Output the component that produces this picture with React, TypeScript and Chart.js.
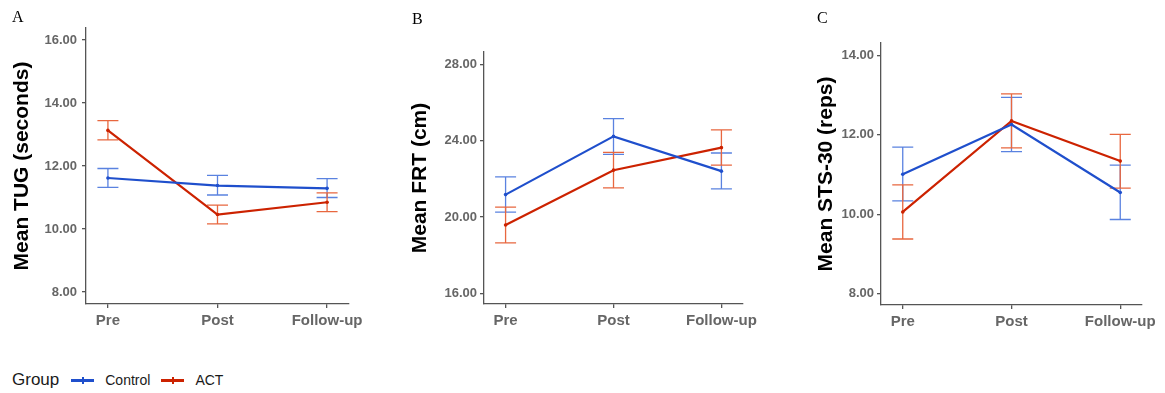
import React, { useEffect, useRef } from "react";
import { Chart, registerables } from "chart.js";

Chart.register(...registerables);
Chart.defaults.font.family = "'Liberation Sans', Arial, sans-serif";

const timePoints = ["Pre", "Post", "Follow-up"];

// Panel A: TUG (seconds)
const tugControl = [11.62, 11.38, 11.29];
const tugControlLow = [11.32, 11.08, 11.0];
const tugControlHigh = [11.92, 11.7, 11.6];
const tugAct = [13.13, 10.46, 10.85];
const tugActLow = [12.83, 10.16, 10.55];
const tugActHigh = [13.44, 10.76, 11.15];
const tugTicks = [8, 10, 12, 14, 16];

// Panel B: FRT (cm)
const frtControl = [21.17, 24.22, 22.4];
const frtControlLow = [20.25, 23.28, 21.47];
const frtControlHigh = [22.1, 25.15, 23.35];
const frtAct = [19.58, 22.45, 23.63];
const frtActLow = [18.64, 21.52, 22.71];
const frtActHigh = [20.51, 23.38, 24.56];
const frtTicks = [16, 20, 24, 28];

// Panel C: STS-30 (reps)
const stsControl = [11.01, 12.26, 10.55];
const stsControlLow = [10.34, 11.58, 9.87];
const stsControlHigh = [11.69, 12.94, 11.24];
const stsAct = [10.06, 12.35, 11.34];
const stsActLow = [9.38, 11.67, 10.66];
const stsActHigh = [10.74, 13.03, 12.01];
const stsTicks = [8, 10, 12, 14];

const groups = ["Control", "ACT"];
const lineColors = ["#1f4fcc", "#cc2200"];
const errColors = ["#5a82e0", "#e8673f"];

const errorBarPlugin = {
  id: "errorBars",
  beforeDatasetsDraw(chart: any) {
    const { ctx } = chart;
    const xs = chart.scales.x;
    const ys = chart.scales.y;
    chart.data.datasets.forEach((ds: any) => {
      ctx.save();
      ctx.strokeStyle = ds.errColor;
      ctx.lineWidth = 1.3;
      ds.data.forEach((p: any, i: number) => {
        const x = xs.getPixelForValue(p.x);
        const yl = ys.getPixelForValue(ds.errLow[i]);
        const yh = ys.getPixelForValue(ds.errHigh[i]);
        const hw = 10.5;
        ctx.beginPath();
        ctx.moveTo(x, yl);
        ctx.lineTo(x, yh);
        ctx.moveTo(x - hw, yl);
        ctx.lineTo(x + hw, yl);
        ctx.moveTo(x - hw, yh);
        ctx.lineTo(x + hw, yh);
        ctx.stroke();
      });
      ctx.restore();
    });
  },
};

type PanelProps = {
  left: number;
  width: number;
  height: number;
  padTop: number;
  padRight: number;
  yWidth: number;
  xHeight: number;
  yMin: number;
  yMax: number;
  ticks: number[];
  title: string;
  control: number[];
  controlLow: number[];
  controlHigh: number[];
  act: number[];
  actLow: number[];
  actHigh: number[];
  tickPad: number;
};

function Panel(p: PanelProps) {
  const ref = useRef<HTMLCanvasElement | null>(null);
  useEffect(() => {
    if (!ref.current) return;
    const series = [
      { mean: p.control, low: p.controlLow, high: p.controlHigh },
      { mean: p.act, low: p.actLow, high: p.actHigh },
    ];
    const chart = new Chart(ref.current, {
      type: "line",
      data: {
        datasets: series.map((s, gi) => ({
          label: groups[gi],
          data: s.mean.map((v, i) => ({ x: i, y: v })),
          borderColor: lineColors[gi],
          backgroundColor: lineColors[gi],
          borderWidth: 2.2,
          pointRadius: 1.8,
          pointBorderWidth: 0,
          pointBackgroundColor: lineColors[gi],
          tension: 0,
          errLow: s.low,
          errHigh: s.high,
          errColor: errColors[gi],
        })) as any,
      },
      options: {
        animation: false,
        responsive: false,
        maintainAspectRatio: false,
        layout: { padding: { top: p.padTop, right: p.padRight, left: 0, bottom: 0 } },
        plugins: { legend: { display: false }, tooltip: { enabled: false } },
        scales: {
          x: {
            type: "linear",
            min: -0.2,
            max: 2.2,
            afterBuildTicks: (a: any) => {
              a.ticks = timePoints.map((_, i) => ({ value: i }));
            },
            afterFit: (s: any) => {
              s.height = p.xHeight;
              s.paddingLeft = 0;
              s.paddingRight = 0;
            },
            ticks: {
              callback: (v: any) => timePoints[Number(v)] ?? "",
              color: "#666666",
              font: { size: 15, weight: "bold" },
              padding: 4,
              autoSkip: false,
              maxRotation: 0,
            },
            grid: { drawOnChartArea: false, drawTicks: true, tickLength: 4, color: "#555555", lineWidth: 1.3 },
            border: { display: true, color: "#555555", width: 1.3 },
          },
          y: {
            type: "linear",
            min: p.yMin,
            max: p.yMax,
            afterBuildTicks: (a: any) => {
              a.ticks = p.ticks.map((v) => ({ value: v }));
            },
            afterFit: (s: any) => {
              s.width = p.yWidth;
              s.paddingTop = 0;
              s.paddingBottom = 0;
            },
            ticks: {
              callback: (v: any) => Number(v).toFixed(2),
              color: "#666666",
              font: { size: 13, weight: "bold" },
              padding: p.tickPad,
            },
            title: {
              display: true,
              text: p.title,
              color: "#000000",
              font: { size: 21, weight: "bold" },
              padding: { top: 10, bottom: 0 },
            },
            grid: { drawOnChartArea: false, drawTicks: true, tickLength: 4, color: "#555555", lineWidth: 1.3 },
            border: { display: true, color: "#555555", width: 1.3 },
          },
        },
      } as any,
      plugins: [errorBarPlugin],
    });
    return () => chart.destroy();
  }, []);
  return (
    <canvas
      ref={ref}
      width={p.width}
      height={p.height}
      style={{ position: "absolute", left: p.left, top: 0, width: p.width, height: p.height, display: "block" }}
    />
  );
}

const letterStyle: React.CSSProperties = {
  position: "absolute",
  fontFamily: "'Liberation Serif', 'Times New Roman', serif",
  fontSize: 16,
  color: "#000",
  lineHeight: "16px",
};

function LegendKey({ color }: { color: string }) {
  return (
    <div style={{ position: "relative", width: 23, height: 10, marginRight: 11 }}>
      <div style={{ position: "absolute", left: 0, top: 4, width: 23, height: 3, background: color }} />
      <div style={{ position: "absolute", left: 10.5, top: 2, width: 2, height: 7, background: color }} />
    </div>
  );
}

export default function App() {
  return (
    <div style={{ position: "absolute", left: 0, top: 0, width: 1165, height: 393, background: "#fff", overflow: "hidden" }}>
      <Panel
        left={0}
        width={380}
        height={340}
        padTop={28}
        padRight={31}
        yWidth={86}
        xHeight={36}
        yMin={7.62}
        yMax={16.38}
        ticks={tugTicks}
        title="Mean TUG (seconds)"
        control={tugControl}
        controlLow={tugControlLow}
        controlHigh={tugControlHigh}
        act={tugAct}
        actLow={tugActLow}
        actHigh={tugActHigh}
        tickPad={5}
      />
      <Panel
        left={398}
        width={375}
        height={340}
        padTop={52}
        padRight={30}
        yWidth={86}
        xHeight={36}
        yMin={15.44}
        yMax={28.64}
        ticks={frtTicks}
        title="Mean FRT (cm)"
        control={frtControl}
        controlLow={frtControlLow}
        controlHigh={frtControlHigh}
        act={frtAct}
        actLow={frtActLow}
        actHigh={frtActHigh}
        tickPad={3}
      />
      <Panel
        left={804}
        width={361}
        height={340}
        padTop={43}
        padRight={23}
        yWidth={77}
        xHeight={35}
        yMin={7.72}
        yMax={14.31}
        ticks={stsTicks}
        title="Mean STS-30 (reps)"
        control={stsControl}
        controlLow={stsControlLow}
        controlHigh={stsControlHigh}
        act={stsAct}
        actLow={stsActLow}
        actHigh={stsActHigh}
        tickPad={3}
      />
      <div style={{ ...letterStyle, left: 12, top: 9 }}>A</div>
      <div style={{ ...letterStyle, left: 412, top: 11 }}>B</div>
      <div style={{ ...letterStyle, left: 817, top: 10 }}>C</div>
      <div
        style={{
          position: "absolute",
          left: 12,
          top: 368,
          height: 24,
          display: "flex",
          alignItems: "center",
          fontFamily: "'Liberation Sans', Arial, sans-serif",
          color: "#1a1a1a",
        }}
      >
        <span style={{ fontSize: 17, marginRight: 12 }}>Group</span>
        <LegendKey color={lineColors[0]} />
        <span style={{ fontSize: 14, marginRight: 11 }}>{groups[0]}</span>
        <LegendKey color={lineColors[1]} />
        <span style={{ fontSize: 14 }}>{groups[1]}</span>
      </div>
    </div>
  );
}
